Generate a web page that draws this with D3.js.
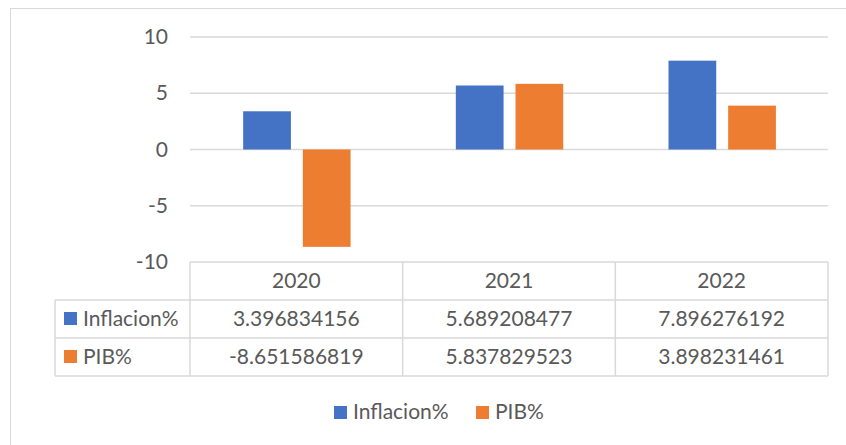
<!DOCTYPE html>
<html>
<head>
<meta charset="utf-8">
<script src="https://cdn.jsdelivr.net/npm/d3@7"></script>
<style>
  body { margin: 0; background: #fff; }
  text { font-family: Lato, "Open Sans", sans-serif; fill: #595959; }
</style>
</head>
<body>
<div id="container"></div>
<script>
const w = 846,
  h = 445;

// data
const years = ['2020', '2021', '2022'];
const seriesNames = ['Inflacion%', 'PIB%'];
const inflacion = [3.396834156, 5.689208477, 7.896276192];
const pib = [-8.651586819, 5.837829523, 3.898231461];
const yTicks = [-10, -5, 0, 5, 10];

const colors = { 'Inflacion%': '#4472C4', 'PIB%': '#ED7D31' };
const values = { 'Inflacion%': inflacion, 'PIB%': pib };

const plotLeft = 190,
  plotRight = 828,
  plotTop = 37,
  plotBottom = 262,
  tableLeft = 55,
  rowH = 38,
  fs = 21;

const svg = d3
  .select('#container')
  .append('svg')
  .attr('width', w)
  .attr('height', h);

// chart border
svg
  .append('rect')
  .attr('x', 10.5)
  .attr('y', 8.5)
  .attr('width', 860)
  .attr('height', 460)
  .attr('fill', 'none')
  .attr('stroke', '#D9D9D9')
  .attr('stroke-width', 1);

const yScale = d3.scaleLinear().domain([-10, 10]).range([plotBottom, plotTop]);
const xScale = d3.scaleBand().domain(years).range([plotLeft, plotRight]);
const inner = d3
  .scaleBand()
  .domain(seriesNames)
  .range([xScale.bandwidth() * 0.25, xScale.bandwidth() * 0.755])
  .paddingInner(0.2);

// gridlines
svg
  .append('g')
  .selectAll('line')
  .data(yTicks)
  .enter()
  .append('line')
  .attr('x1', plotLeft)
  .attr('x2', plotRight)
  .attr('y1', (d) => yScale(d))
  .attr('y2', (d) => yScale(d))
  .attr('stroke', '#D9D9D9')
  .attr('stroke-width', 1.5);

// y tick labels
svg
  .append('g')
  .selectAll('text')
  .data(yTicks)
  .enter()
  .append('text')
  .attr('x', 168)
  .attr('y', (d) => yScale(d) + 7)
  .attr('text-anchor', 'end')
  .attr('font-size', fs)
  .text((d) => d);

// bars
seriesNames.forEach((s) => {
  svg
    .append('g')
    .selectAll('rect')
    .data(years)
    .enter()
    .append('rect')
    .attr('x', (d) => xScale(d) + inner(s))
    .attr('width', inner.bandwidth())
    .attr('y', (d, i) => yScale(Math.max(0, values[s][i])))
    .attr('height', (d, i) => Math.abs(yScale(values[s][i]) - yScale(0)))
    .attr('fill', colors[s]);
});

// data table
const table = svg.append('g').attr('stroke', '#D9D9D9').attr('stroke-width', 1.5);
[plotBottom + rowH, plotBottom + rowH * 2, plotBottom + rowH * 3].forEach((y) => {
  table.append('line').attr('x1', tableLeft).attr('x2', plotRight).attr('y1', y).attr('y2', y);
});
table
  .append('line')
  .attr('x1', tableLeft)
  .attr('x2', tableLeft)
  .attr('y1', plotBottom + rowH)
  .attr('y2', plotBottom + rowH * 3);
years.concat(['end']).forEach((d) => {
  const x = d === 'end' ? plotRight : xScale(d);
  table
    .append('line')
    .attr('x1', x)
    .attr('x2', x)
    .attr('y1', plotBottom)
    .attr('y2', plotBottom + rowH * 3);
});

// header years
svg
  .append('g')
  .selectAll('text')
  .data(years)
  .enter()
  .append('text')
  .attr('x', (d) => xScale(d) + xScale.bandwidth() / 2)
  .attr('y', plotBottom + rowH / 2 + 7)
  .attr('text-anchor', 'middle')
  .attr('font-size', fs)
  .text((d) => d);

seriesNames.forEach((s, r) => {
  const yMid = plotBottom + rowH * (r + 1) + rowH / 2;
  svg
    .append('rect')
    .attr('x', 64)
    .attr('y', yMid - 7)
    .attr('width', 13)
    .attr('height', 13)
    .attr('fill', colors[s]);
  svg
    .append('text')
    .attr('x', 83)
    .attr('y', yMid + 7)
    .attr('font-size', fs)
    .text(s);
  svg
    .append('g')
    .selectAll('text')
    .data(years)
    .enter()
    .append('text')
    .attr('x', (d) => xScale(d) + xScale.bandwidth() / 2)
    .attr('y', yMid + 7)
    .attr('text-anchor', 'middle')
    .attr('font-size', fs)
    .text((d, i) => values[s][i].toFixed(9));
});

// legend
const legend = svg.append('g').attr('transform', 'translate(334, 412)');
const legendX = [0, 142];
seriesNames.forEach((s, i) => {
  legend
    .append('rect')
    .attr('x', legendX[i])
    .attr('y', -6)
    .attr('width', 13)
    .attr('height', 13)
    .attr('fill', colors[s]);
  legend
    .append('text')
    .attr('x', legendX[i] + 19)
    .attr('y', 7)
    .attr('font-size', fs)
    .text(s);
});
</script>
</body>
</html>
